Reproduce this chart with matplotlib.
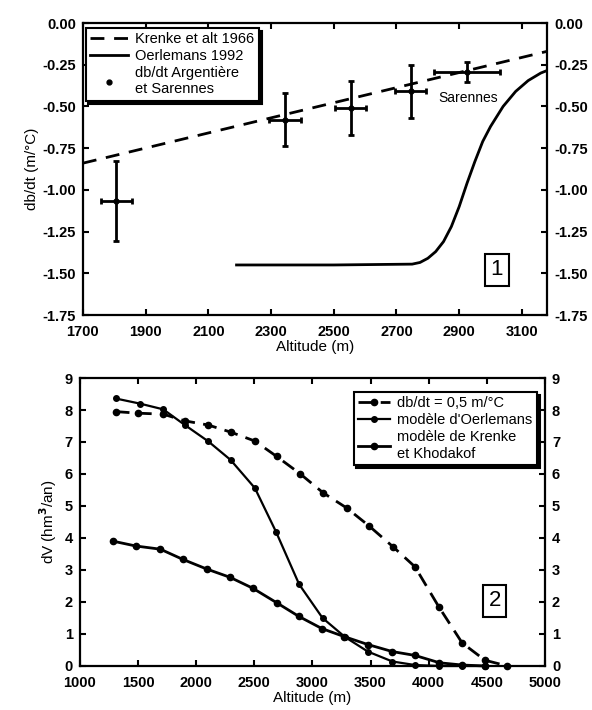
import matplotlib
matplotlib.use('Agg')
import matplotlib.pyplot as plt
import numpy as np

plt.rcParams['font.family'] = ['Liberation Sans', 'DejaVu Sans']
plt.rcParams['font.weight'] = 'bold'

# ---- panel 1 : db/dt versus altitude
krenke_x = [1700, 3180]
krenke_y = [-0.84, -0.17]

oerl_x = [2190, 2500, 2750, 2775, 2800, 2825, 2850, 2875, 2900, 2925, 2950, 2975, 3000,
          3040, 3080, 3120, 3160, 3180]
oerl_y = [-1.45, -1.45, -1.445, -1.435, -1.41, -1.37, -1.31, -1.22, -1.10, -0.96, -0.83,
          -0.71, -0.62, -0.50, -0.41, -0.345, -0.30, -0.285]

pts_x = [1807, 2345, 2554, 2745, 2925]
pts_y = [-1.065, -0.58, -0.51, -0.41, -0.295]
pts_xerr = [50, 50, 50, 50, 105]
pts_yerr = [0.24, 0.16, 0.16, 0.16, 0.06]

# ---- panel 2 : dV versus altitude
dbdt_x = [1307, 1502, 1717, 1903, 2104, 2296, 2505, 2692, 2893, 3093, 3294, 3486, 3695, 3882, 4087, 4288, 4484, 4677]
dbdt_y = [7.95, 7.9, 7.87, 7.66, 7.53, 7.31, 7.03, 6.55, 6.01, 5.41, 4.94, 4.38, 3.72, 3.1, 1.85, 0.72, 0.18, 0.0]

oerl2_x = [1307, 1516, 1717, 1903, 2104, 2296, 2505, 2686, 2886, 3087, 3282, 3477, 3688, 3882, 4093, 4288, 4485]
oerl2_y = [8.36, 8.2, 8.02, 7.53, 7.02, 6.44, 5.56, 4.2, 2.55, 1.5, 0.9, 0.45, 0.14, 0.03, 0.0, 0.0, 0.0]

kren2_x = [1286, 1480, 1692, 1886, 2091, 2292, 2487, 2691, 2883, 3081, 3272, 3477, 3688, 3882, 4093, 4288, 4485]
kren2_y = [3.9, 3.75, 3.65, 3.33, 3.03, 2.77, 2.43, 1.98, 1.55, 1.17, 0.92, 0.67, 0.45, 0.33, 0.1, 0.03, 0.0]

fig = plt.figure(figsize=(5.92, 7.10), dpi=100)
ax1 = fig.add_axes([0.140, 0.5563, 0.784, 0.4113])
ax2 = fig.add_axes([0.135, 0.062, 0.7855, 0.4056])


def style_axes(ax):
    for sp in ax.spines.values():
        sp.set_linewidth(1.6)
    ax.tick_params(direction='in', length=4, width=1.5, labelsize=10.5,
                   top=True, right=True, labelright=True)
    ax.tick_params(axis='x', pad=7)
    ax.tick_params(axis='y', pad=5)


# panel 1
ax1.plot(krenke_x, krenke_y, 'k--', lw=2, dashes=(5, 3.5), label='Krenke et alt 1966')
ax1.plot(oerl_x, oerl_y, 'k-', lw=2, label='Oerlemans 1992')
ax1.errorbar(pts_x, pts_y, xerr=pts_xerr, yerr=pts_yerr, fmt='none', ecolor='k',
             elinewidth=2, capsize=2, capthick=2)
ax1.plot(pts_x, pts_y, 'ko', ms=3.5, linestyle='none',
         label='db/dt Argentière\net Sarennes')
ax1.text(2930, -0.45, 'Sarennes', ha='center', va='center', fontsize=10, weight='normal')
ax1.set_xlim(1700, 3180)
ax1.set_ylim(-1.75, 0)
ax1.set_xticks(np.arange(1700, 3101, 200))
ax1.set_yticks(np.arange(-1.75, 0.01, 0.25))
ax1.yaxis.set_major_formatter(matplotlib.ticker.FormatStrFormatter('%.2f'))
style_axes(ax1)
ax1.set_xlabel('Altitude (m)', fontsize=11, labelpad=1)
ax1.set_ylabel('db/dt (m/°C)', fontsize=11, labelpad=2)
ax1.text(0.892, 0.155, '1', transform=ax1.transAxes, fontsize=16, weight='normal',
         ha='center', va='center',
         bbox=dict(boxstyle='square,pad=0.25', fc='white', ec='k', lw=1.5))
leg1 = ax1.legend(loc='upper left', bbox_to_anchor=(0.006, 0.983), borderaxespad=0,
                  fancybox=False, edgecolor='k', framealpha=1, fontsize=10.5,
                  handlelength=2.6, handletextpad=0.5, borderpad=0.3, labelspacing=0.2,
                  shadow={'color': 'k', 'alpha': 1})
leg1.get_frame().set_linewidth(1.5)
for t in leg1.get_texts():
    t.set_fontweight('normal')

# panel 2
ax2.plot(dbdt_x, dbdt_y, 'k--', lw=2, dashes=(5, 3), marker='o', ms=4.5,
         label='db/dt = 0,5 m/°C', clip_on=False)
ax2.plot(oerl2_x, oerl2_y, 'k-', lw=1.6, marker='o', ms=4,
         label="modèle d'Oerlemans", clip_on=False)
ax2.plot(kren2_x, kren2_y, 'k-', lw=2, marker='o', ms=4.5,
         label='modèle de Krenke\net Khodakof', clip_on=False)
ax2.set_xlim(1000, 5000)
ax2.set_ylim(0, 9)
ax2.set_xticks(np.arange(1000, 5001, 500))
ax2.set_yticks(np.arange(0, 10, 1))
style_axes(ax2)
ax2.set_xlabel('Altitude (m)', fontsize=11, labelpad=1)
ax2.set_ylabel('dV (hm$^3$/an)', fontsize=11, labelpad=4)
ax2.text(0.892, 0.226, '2', transform=ax2.transAxes, fontsize=16, weight='normal',
         ha='center', va='center',
         bbox=dict(boxstyle='square,pad=0.25', fc='white', ec='k', lw=1.5))
leg2 = ax2.legend(loc='upper right', bbox_to_anchor=(0.983, 0.951), borderaxespad=0,
                  fancybox=False, edgecolor='k', framealpha=1, fontsize=10.5,
                  handlelength=2.2, handletextpad=0.5, borderpad=0.3, labelspacing=0.2,
                  shadow={'color': 'k', 'alpha': 1})
leg2.get_frame().set_linewidth(1.5)
for t in leg2.get_texts():
    t.set_fontweight('normal')

fig.savefig('out.png', dpi=100)
